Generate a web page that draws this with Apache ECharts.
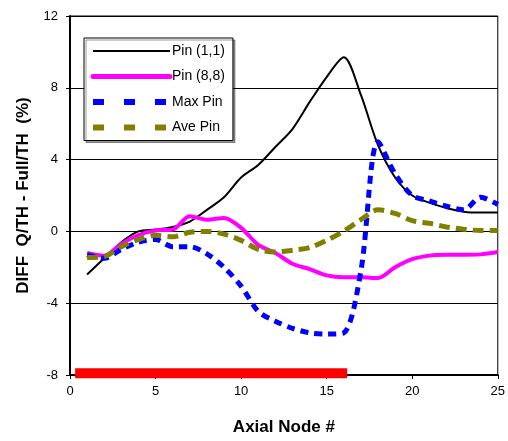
<!DOCTYPE html>
<html>
<head>
<meta charset="utf-8">
<script src="https://cdn.jsdelivr.net/npm/echarts@6/dist/echarts.min.js"></script>
<style>
  html, body { margin: 0; padding: 0; background: #fff; }
  #chart { width: 508px; height: 441px; }
</style>
</head>
<body>
<div id="chart"></div>
<script>
// axial nodes 1..25
const nodes = [1,2,3,4,5,6,7,8,9,10,11,12,13,14,15,16,17,18,19,20,21,22,23,24,25]

const pin11 = [-2.4,-1.5,-0.6,0.0,0.1,0.25,0.55,1.2,1.9,3.0,3.7,4.7,5.7,7.2,8.6,9.7,7.6,4.8,3.0,2.0,1.6,1.3,1.1,1.05,1.05]
const pin88 = [-1.2,-1.35,-0.7,-0.2,0.05,0.1,0.85,0.65,0.75,0.2,-0.75,-1.2,-1.8,-2.1,-2.45,-2.55,-2.55,-2.6,-2.0,-1.55,-1.35,-1.3,-1.3,-1.28,-1.15]
const maxPin = [-1.3,-1.5,-1.0,-0.6,-0.45,-0.85,-0.85,-1.25,-2.0,-3.05,-4.45,-5.0,-5.4,-5.65,-5.72,-5.65,-2.2,5.0,3.2,2.0,1.7,1.4,1.2,1.9,1.5]
const avePin = [-1.45,-1.4,-0.85,-0.45,-0.22,-0.3,-0.05,0.0,-0.15,-0.5,-1.0,-1.15,-1.05,-0.9,-0.5,0.02,0.65,1.2,1.0,0.6,0.45,0.25,0.12,0.05,0.05]

// red band along the bottom axis (node range)
const bandX = [0.3, 16.2]
const bandY = -7.9

const font = 'Arial, "Liberation Sans", sans-serif'
const toPairs = vals => nodes.map((n, i) => [n, vals[i]])

const chart = echarts.init(document.getElementById('chart'))

chart.setOption({
  animation: false,
  grid: {
    left: 70, right: 9, top: 16, bottom: 65,
    show: true, borderColor: '#000', borderWidth: 1,
  },
  legend: {
    orient: 'vertical',
    left: 84, top: 38,
    padding: [6, 8, 6, 6],
    itemWidth: 77, itemHeight: 14, itemGap: 11.5,
    backgroundColor: '#fff',
    borderColor: '#000', borderWidth: 1,
    shadowColor: 'rgba(0,0,0,0.4)', shadowOffsetX: 2, shadowOffsetY: 2,
    itemStyle: { opacity: 0 },
    textStyle: { fontFamily: font, fontSize: 14, color: '#000', padding: [0, 0, 0, -3] },
    data: [
      { name: 'Pin (1,1)', lineStyle: { width: 2 } },
      { name: 'Pin (8,8)', lineStyle: { width: 5, cap: 'round' } },
      { name: 'Max Pin', lineStyle: { width: 6, type: [11, 20] } },
      { name: 'Ave Pin', lineStyle: { width: 6, type: [11, 20] } },
    ],
  },
  xAxis: {
    type: 'value', min: 0, max: 25, interval: 5,
    name: 'Axial Node #', nameLocation: 'middle', nameGap: 44,
    nameTextStyle: { fontFamily: font, fontSize: 17, fontWeight: 'bold', color: '#000' },
    axisLine: { onZero: false, lineStyle: { color: '#000', width: 2 } },
    axisTick: { show: true, length: 4, lineStyle: { color: '#000' } },
    axisLabel: { fontFamily: font, fontSize: 13, color: '#000', margin: 10 },
    splitLine: { show: false },
  },
  yAxis: {
    type: 'value', min: -8, max: 12, interval: 4,
    name: 'DIFF  Q/TH - Full/TH  (%)', nameLocation: 'middle', nameGap: 38,
    nameTextStyle: { fontFamily: font, fontSize: 17, fontWeight: 'bold', color: '#000' },
    axisLine: { show: true, lineStyle: { color: '#000', width: 2 } },
    axisTick: { show: true, length: 4, lineStyle: { color: '#000' } },
    axisLabel: { fontFamily: font, fontSize: 13, color: '#000', margin: 12 },
    splitLine: { show: true, lineStyle: { color: '#000', width: 1 } },
  },
  series: [
    {
      name: 'band', type: 'line', data: bandX.map(x => [x, bandY]),
      symbol: 'none', clip: false, silent: true, z: 1,
      lineStyle: { color: '#ff0000', width: 10, cap: 'butt' },
    },
    {
      name: 'Pin (1,1)', type: 'line', data: toPairs(pin11), smooth: 0.3,
      symbol: 'none', color: '#000',
      lineStyle: { color: '#000', width: 2 },
    },
    {
      name: 'Pin (8,8)', type: 'line', data: toPairs(pin88), smooth: 0.3,
      symbol: 'none', color: '#ff00ff',
      lineStyle: { color: '#ff00ff', width: 4 },
    },
    {
      name: 'Max Pin', type: 'line', data: toPairs(maxPin), smooth: 0.3,
      symbol: 'none', color: '#0000ff',
      lineStyle: { color: '#0000ff', width: 5, type: [8, 6] },
    },
    {
      name: 'Ave Pin', type: 'line', data: toPairs(avePin), smooth: 0.3,
      symbol: 'none', color: '#808000',
      lineStyle: { color: '#808000', width: 5, type: [11, 6] },
    },
  ],
})
</script>
</body>
</html>
